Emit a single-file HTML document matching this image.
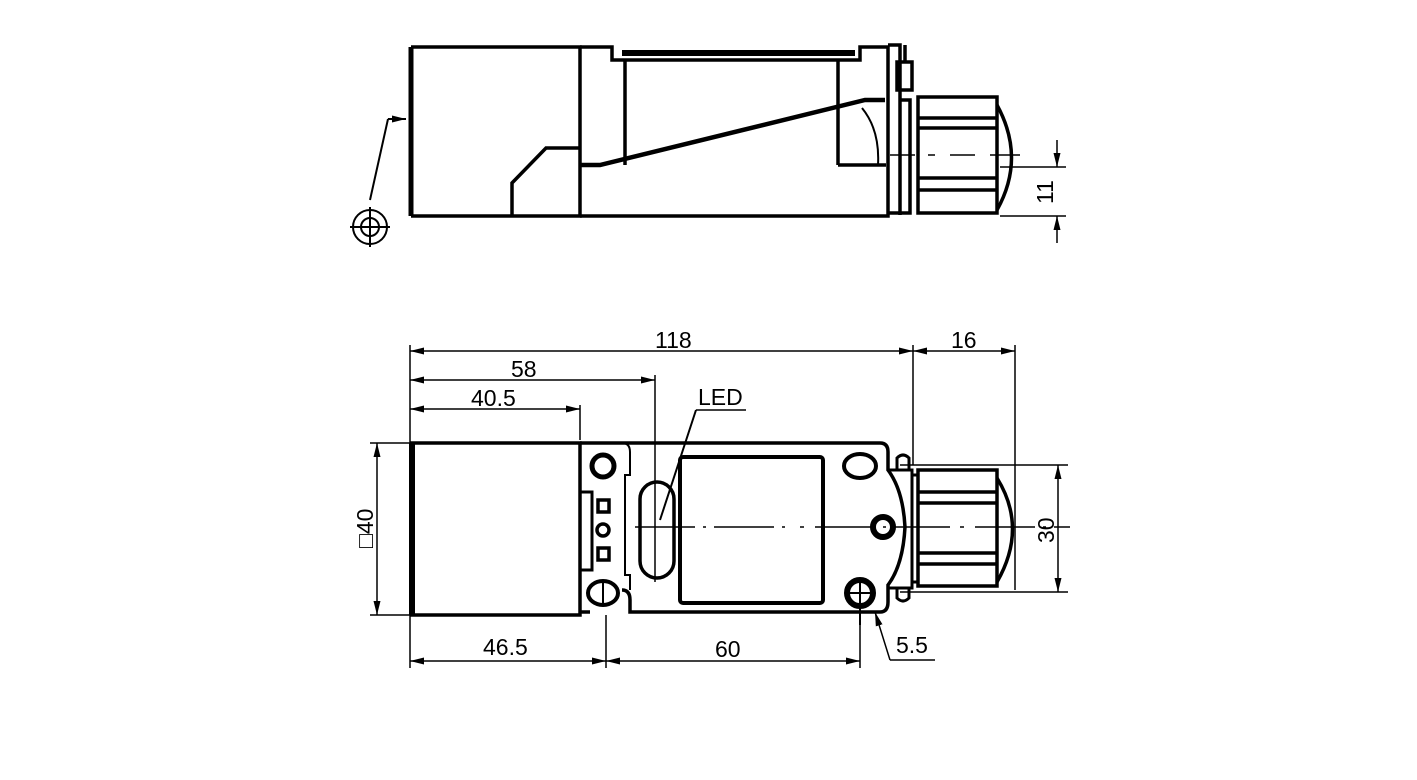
<!DOCTYPE html>
<html><head><meta charset="utf-8"><style>
html,body{margin:0;padding:0;background:#fff;}
svg{display:block;}
text{font-family:"Liberation Sans",sans-serif;font-size:23px;fill:#000;}
</style></head><body>
<svg width="1417" height="780" viewBox="0 0 1417 780" xmlns="http://www.w3.org/2000/svg">
<defs>
<marker id="a" markerWidth="14" markerHeight="8" refX="14" refY="4" orient="auto" markerUnits="userSpaceOnUse">
<path d="M0,0.5 L14,4 L0,7.5 Z" fill="#000"/></marker>
<marker id="b" markerWidth="14" markerHeight="8" refX="0" refY="4" orient="auto" markerUnits="userSpaceOnUse">
<path d="M14,0.5 L0,4 L14,7.5 Z" fill="#000"/></marker>
</defs>
<g fill="none" stroke="#000" stroke-width="3.5">
<!-- TOP VIEW -->
<line x1="411" y1="47" x2="411" y2="216" stroke-width="5"/>
<path d="M411,47 H580 V216 H411"/>
<path d="M512,216 V183 L546,148 H580"/>
<path d="M580,47 H612 V60 H860 V47 H888 V216 H580"/>
<path d="M622,53 H855" stroke-width="6"/>
<path d="M625,60 V165 M838,60 V165"/>
<path d="M580,165 H600 L865,100 H885" stroke-width="4.5"/>
<path d="M838,165 H886"/>
<path d="M862,108 Q880,130 878,165" stroke-width="2"/>
<path d="M888,45 H900 V215 M900,100 H910 V213 H888 M897,62 H912 V90 H897 Z M905,45 V62"/>
<rect x="918" y="97" width="79" height="116"/>
<path d="M918,118 H997 M918,128 H997 M918,178 H997 M918,190 H997"/>
<path d="M997,105 Q1026,158 997,210"/>
<path d="M890,155 H915 M928,155 H935 M950,155 H975 M990,155 H1020" stroke-width="1.5"/>
<path d="M1000,167 H1066 M1000,216 H1066" stroke-width="1.5"/>
<line x1="1057" y1="140" x2="1057" y2="167" stroke-width="1.5" marker-end="url(#a)"/>
<line x1="1057" y1="243" x2="1057" y2="216" stroke-width="1.5" marker-end="url(#a)"/>
<circle cx="370" cy="227" r="17" stroke-width="2"/>
<circle cx="370" cy="227" r="9" stroke-width="2"/>
<path d="M350,227 H390 M370,207 V247" stroke-width="2"/>
<path d="M370,200 L388,119" stroke-width="2"/>
<line x1="388" y1="119" x2="406" y2="119" stroke-width="2" marker-end="url(#a)"/>

<!-- BOTTOM VIEW -->
<line x1="412" y1="443" x2="412" y2="615" stroke-width="6"/>
<path d="M410,443 H580 V615 H410"/>
<path d="M580,443 H880 Q888,443 888,452 V470 Q903,490 905,527 Q903,565 888,585 V602 Q888,612 880,612 H630 V600 Q630,590 622,590 M580,612 H590"/>
<path d="M580,443 H622 Q630,443 630,452 V475 H625 V575 H630 V590" stroke-width="2"/>
<circle cx="603" cy="466" r="11" stroke-width="5"/>
<ellipse cx="603" cy="593" rx="15" ry="12" stroke-width="4"/>
<path d="M603,580 V606" stroke-width="2"/>
<path d="M580,492 H592 V570 H580" stroke-width="3"/>
<rect x="598" y="500" width="11" height="12"/><rect x="598" y="548" width="11" height="12"/>
<circle cx="603" cy="530" r="6"/>
<rect x="640" y="482" width="34" height="96" rx="17"/>
<rect x="680" y="457" width="143" height="146" rx="3" stroke-width="4"/>
<ellipse cx="860" cy="466" rx="16" ry="12" stroke-width="4"/>
<circle cx="860" cy="593" r="13" stroke-width="6"/>
<path d="M845,593 H875 M860,578 V625" stroke-width="2"/>
<circle cx="883" cy="527" r="10" stroke-width="6"/>
<path d="M888,470 H912 V588 H888 M897,470 V458 Q903,452 909,458 V470 M897,588 V598 Q903,604 909,598 V588 M912,475 H918 M912,582 H918" stroke-width="3"/>
<rect x="918" y="470" width="79" height="116"/>
<path d="M918,492 H997 M918,503 H997 M918,553 H997 M918,564 H997"/>
<path d="M997,478 Q1028,528 997,582"/>
<path d="M635,527 H790 M800,527 H804 M815,527 H950 M960,527 H964 M975,527 H1070" stroke-width="1.5" stroke-dasharray="60 8 3 8"/>
<g stroke-width="1.5">
<path d="M410,345 V668 M580,405 V440 M655,375 V582 M913,345 V465 M1015,345 V590 M606,615 V668 M860,615 V668 M370,443 H410 M370,615 H410 M900,465 H1068 M900,592 H1068 M696,410 H746"/>
<line x1="410" y1="351" x2="913" y2="351" marker-start="url(#b)" marker-end="url(#a)"/>
<line x1="913" y1="351" x2="1015" y2="351" marker-start="url(#b)" marker-end="url(#a)"/>
<line x1="410" y1="380" x2="655" y2="380" marker-start="url(#b)" marker-end="url(#a)"/>
<line x1="410" y1="409" x2="580" y2="409" marker-start="url(#b)" marker-end="url(#a)"/>
<line x1="377" y1="443" x2="377" y2="615" marker-start="url(#b)" marker-end="url(#a)"/>
<line x1="1058" y1="465" x2="1058" y2="592" marker-start="url(#b)" marker-end="url(#a)"/>
<line x1="410" y1="661" x2="606" y2="661" marker-start="url(#b)" marker-end="url(#a)"/>
<line x1="606" y1="661" x2="860" y2="661" marker-start="url(#b)" marker-end="url(#a)"/>
<line x1="696" y1="410" x2="660" y2="520" stroke-width="2"/>
<line x1="890" y1="660" x2="875" y2="612" marker-end="url(#a)"/>
<path d="M890,660 H935"/>
</g>
</g>
<text x="1053" y="204" transform="rotate(-90 1053 204)">11</text>
<text x="655" y="348">118</text>
<text x="951" y="348">16</text>
<text x="511" y="377">58</text>
<text x="471" y="406">40.5</text>
<text x="698" y="405">LED</text>
<text x="483" y="655">46.5</text>
<text x="715" y="657">60</text>
<text x="896" y="653">5.5</text>
<text x="1054" y="543" transform="rotate(-90 1054 543)">30</text>
<text x="373" y="548" transform="rotate(-90 373 548)">□40</text>
</svg>
</body></html>
